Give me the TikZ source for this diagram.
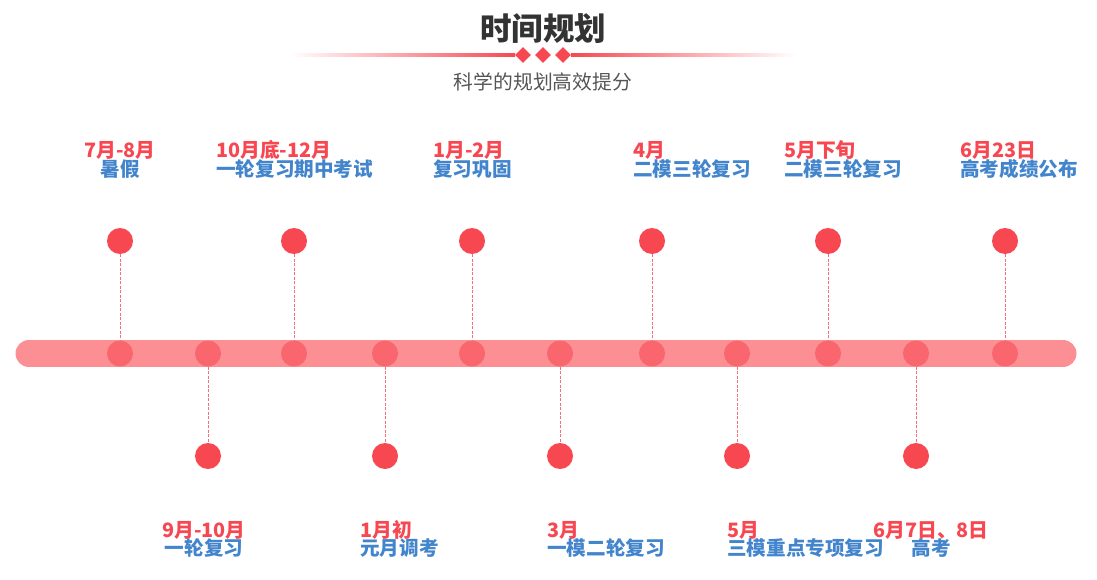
\documentclass[tikz,border=0pt]{standalone}
\usepackage{fontspec}
\setmainfont{Noto Sans CJK SC}
\usetikzlibrary{shapes.geometric}
\definecolor{cDot}{RGB}{247,72,82}
\definecolor{cBar}{RGB}{251,143,147}
\definecolor{cMid}{RGB}{249,102,110}
\definecolor{cBlue}{RGB}{66,133,204}
\definecolor{cTitle}{RGB}{51,51,51}
\definecolor{cSub}{RGB}{85,85,85}

\begin{document}
\begin{tikzpicture}[x=1pt, y=-1pt,
  dot/.style={circle, fill=cDot, minimum size=26pt, inner sep=0pt},
  mid/.style={circle, fill=cMid, minimum size=26pt, inner sep=0pt},
  stem/.style={cDot!80, line width=0.8pt, dash pattern=on 3pt off 1.5pt},
  date/.style={font=\fontsize{19.8}{19.8}\selectfont\bfseries, text=cDot, inner sep=0pt},
  task/.style={font=\fontsize{19.6}{19.6}\selectfont\bfseries, text=cBlue, inner sep=0pt},
  gem/.style={diamond, fill=cDot, minimum width=16pt, minimum height=16pt, inner sep=0pt}]
  \useasboundingbox (0,0) rectangle (1097,580);
  % header
  \node[font=\fontsize{31.5}{31.5}\selectfont\bfseries, text=cTitle] (title) at (543,29) {时间规划};
  \shade[left color=white, right color=cDot] (290,54) rectangle (515,56.5);
  \shade[left color=cDot, right color=white] (571,54) rectangle (796,56.5);
  \foreach \x/\n in {523/1,543/2,563/3} \node[gem] (g\n) at (\x,55) {};
  \node[font=\fontsize{19.8}{19.8}\selectfont, text=cSub] (sub) at (543,82) {科学的规划高效提分};
  % timeline
  \coordinate (barL) at (29,353.5); \coordinate (barR) at (1063,353.5);
  \draw[cBar, line width=27pt, line cap=round] (barL) -- (barR);
  \foreach \x [count=\i] in {120,208,294,385,472,560,652,737,828,916,1005}
    \node[mid] (m\i) at (\x,353.5) {};
  \foreach \i/\x in {1/120,3/294,5/472,7/652,9/828,11/1005}{
    \node[dot] (t\i) at (\x,241) {}; \draw[stem] (t\i) -- (m\i);}
  \foreach \i/\x in {2/208,4/385,6/560,8/737,10/916}{
    \node[dot] (t\i) at (\x,456) {}; \draw[stem] (m\i) -- (t\i);}
  % labels above
  \foreach \i/\x/\a/\d/\t in {1/120/base/7月-8月/暑假, 3/216/base west/10月底-12月/一轮复习期中考试,
      5/433/base west/1月-2月/复习巩固, 7/633/base west/4月/二模三轮复习,
      9/784/base west/5月下旬/二模三轮复习, 11/960/base west/6月23日/高考成绩公布}{
    \node[date, anchor=\a] (d\i) at (\x,158) {\d};
    \node[task, anchor=\a] (k\i) at (\x,177) {\t};}
  % labels below
  \foreach \i/\x/\a/\d/\t in {2/204/base/9月-10月/一轮复习, 4/360/base west/1月初/元月调考,
      6/547/base west/3月/一模二轮复习, 8/727/base west/5月/三模重点专项复习,
      10/931/base/6月7日、8日/高考}{
    \node[date, anchor=\a] (d\i) at (\x,537) {\d};
    \node[task, anchor=\a] (k\i) at (\x,555) {\t};}
\end{tikzpicture}
\end{document}
